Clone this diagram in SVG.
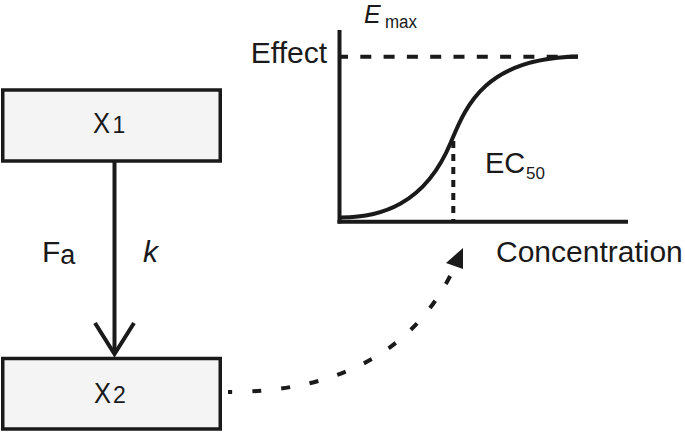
<svg xmlns="http://www.w3.org/2000/svg" width="685" height="434" viewBox="0 0 685 434">
<style>
text{font-family:"Liberation Sans",Arial,sans-serif;fill:#1a1a1a}
.box{fill:#f4f4f4;stroke:#1a1a1a;stroke-width:3.5}
.ln{fill:none;stroke:#1a1a1a;stroke-width:4}
.big{font-size:30px}
.sub{font-size:23px}
</style>
<rect width="685" height="434" fill="#ffffff"/>
<g id="node-x1">
<rect class="box" x="2.75" y="90" width="217.5" height="71"/>
<text class="big" x="93" y="133" textLength="17" lengthAdjust="spacingAndGlyphs">X</text>
<text class="sub" x="112.5" y="133">1</text>
</g>
<g id="node-x2">
<rect class="box" x="2.75" y="358.5" width="217.5" height="70.5"/>
<text class="big" x="94" y="403" textLength="17" lengthAdjust="spacingAndGlyphs">X</text>
<text class="sub" x="113" y="403">2</text>
</g>
<g id="connectors">
<line class="ln" x1="114.5" y1="162" x2="114.5" y2="354"/>
<polyline class="ln" points="95,323 114.5,354 134,323"/>
<text class="big" x="42" y="262">F<tspan font-size="27" dy="2">a</tspan></text>
<text class="big" x="143" y="262" font-size="29" font-style="italic">k</text>
<path class="ln" d="M228,392 Q397,392 455,266" stroke-dasharray="9 20" stroke-dashoffset="5"/>
<polygon points="463,248 446,263 463,269" fill="#1a1a1a"/>
</g>
<g id="chart">
<line class="ln" x1="339.5" y1="30" x2="339.5" y2="223.5"/>
<line class="ln" x1="337.5" y1="221.7" x2="628" y2="221.7"/>
<line class="ln" x1="341" y1="56.7" x2="578" y2="56.7" stroke-dasharray="11 12.3" stroke-dashoffset="4"/>
<line class="ln" x1="453.3" y1="141" x2="453.3" y2="220" stroke-dasharray="7 6"/>
<path class="ln" stroke-width="4.5" d="M339,217.5 C380,218 425,205 451,142 C466,106 485,58 578,56.5"/>
<text class="big" x="327" y="63" text-anchor="end">Effect</text>
<text x="364" y="23" font-size="25" font-style="italic">E</text>
<text x="385" y="28" font-size="18" textLength="32" lengthAdjust="spacingAndGlyphs">max</text>
<text x="485" y="173.3" font-size="29">EC</text>
<text x="526" y="179.3" font-size="17">50</text>
<text class="big" x="496" y="262">Concentration</text>
</g>
</svg>
